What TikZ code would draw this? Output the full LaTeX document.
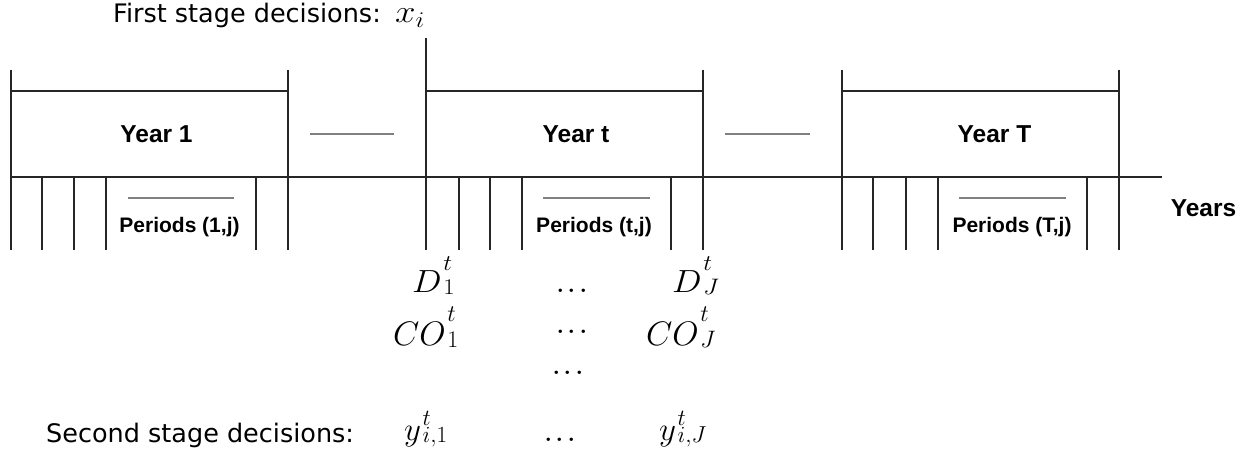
\documentclass[tikz,border=0pt]{standalone}
\usepackage{fix-cm}
\usepackage{fontspec}
\newfontfamily\lsans{Liberation Sans}
\newfontfamily\dvs{DejaVu Sans}
\newsavebox\tscbase
\newcommand{\tsc}[3]{\sbox\tscbase{$#1$}\usebox\tscbase\hspace{1.5pt}\rlap{\raisebox{\ht\tscbase}{$\scriptstyle #2$}}\raisebox{-0.08em}{$\scriptstyle #3$}}
\newcommand{\wdots}{.\hspace{1pt}.\hspace{1pt}.}
\newcommand{\hstr}[1]{\scalebox{1.1}[1]{#1}}
\tikzset{
  axisline/.style={line width=1.3pt, draw=black!85},
  gapdash/.style={line width=2pt, draw=black!50},
  yearlbl/.style={font=\lsans\bfseries\fontsize{24.5}{28}\selectfont, inner sep=0, anchor=base},
  perlbl/.style={font=\lsans\bfseries\fontsize{21}{24}\selectfont, inner sep=0, anchor=base},
  stagelbl/.style={font=\dvs\fontsize{25.5}{30}\selectfont, inner sep=0, anchor=base west},
  mathD/.style={font=\fontsize{32}{36}\selectfont, inner sep=0, anchor=base west},
  mathC/.style={font=\fontsize{34}{38}\selectfont, inner sep=0, anchor=base west},
  mathY/.style={font=\fontsize{33}{38}\selectfont, inner sep=0, anchor=base west},
  dotlbl/.style={font=\fontsize{42}{46}\selectfont, inner sep=0, anchor=base},
}
\begin{document}
\begin{tikzpicture}[x=1pt,y=-1pt]
\useasboundingbox (0,0) rectangle (1251,457);
% main axis
\draw[axisline] (11,177) -- (1162,177);
% year boxes
\draw[axisline] (11,70) -- (11,250) (288,70) -- (288,250) (11,91) -- (288,91);
\draw[axisline] (426,38) -- (426,250) (703,70) -- (703,250) (426,91) -- (703,91);
\draw[axisline] (842,70) -- (842,250) (1119,70) -- (1119,250) (842,91) -- (1119,91);
% period ticks
\foreach \px in {42,74,106,256,459,490,522,671,873,906,938,1087}
  \draw[axisline] (\px,177) -- (\px,250);
% gaps
\draw[gapdash] (310,134) -- (394,134);
\draw[gapdash] (725,134) -- (810,134);
\draw[gapdash] (128,198) -- (234,198);
\draw[gapdash] (543,198) -- (650,198);
\draw[gapdash] (959,198) -- (1066,198);
% labels
\node[yearlbl] (y1) at (156.5,143) {Year 1};
\node[yearlbl] (yt) at (576,143) {Year t};
\node[yearlbl] (yT) at (994.5,143) {Year T};
\node[perlbl] (p1) at (179.5,233) {Periods (1,j)};
\node[perlbl] (pt) at (594,233) {Periods (t,j)};
\node[perlbl] (pT) at (1012,233) {Periods (T,j)};
\node[yearlbl] (yrs) at (1203.5,217) {Years};
\node[stagelbl] (fs) at (113,23) {First stage decisions:};
\node[mathD] (xi) at (395,23) {\scalebox{1.15}[1]{$x_i$}};
\node[stagelbl] (ss) at (46,442) {Second stage decisions:};
% math
\node[mathD] (d1) at (412,292) {\hstr{\tsc{D}{t}{1}}};
\node[dotlbl] (dd1) at (572,293) {\wdots};
\node[mathD] (dJ) at (672,292) {\hstr{\tsc{D}{t}{J}}};
\node[mathC] (c1) at (393,345) {\tsc{CO}{t}{1}};
\node[dotlbl] (dd2) at (572,334) {\wdots};
\node[mathC] (cJ) at (646,345) {\tsc{CO}{t}{J}};
\node[dotlbl] (dd3) at (568,374) {\wdots};
\node[mathY] (yi1) at (404,440) {\tsc{y}{t}{i,1}};
\node[dotlbl] (dd4) at (560,441) {\wdots};
\node[mathY] (yiJ) at (659,440) {\tsc{y}{t}{i,J}};
\end{tikzpicture}
\end{document}
